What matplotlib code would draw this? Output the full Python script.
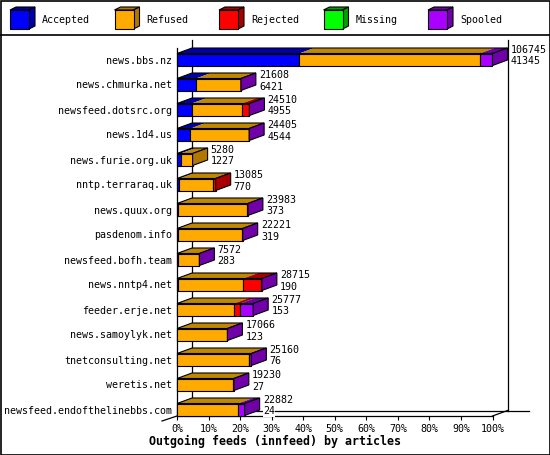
import numpy as np
import matplotlib
matplotlib.use('Agg')
import matplotlib.pyplot as plt
from matplotlib.patches import Polygon, Rectangle

# innfeed outgoing feeds, articles per peer
peers = ["news.bbs.nz", "news.chmurka.net", "newsfeed.dotsrc.org", "news.1d4.us",
         "news.furie.org.uk", "nntp.terraraq.uk", "news.quux.org", "pasdenom.info",
         "newsfeed.bofh.team", "news.nntp4.net", "feeder.erje.net", "news.samoylyk.net",
         "tnetconsulting.net", "weretis.net", "newsfeed.endofthelinebbs.com"]
offered = [106745, 21608, 24510, 24405, 5280, 13085, 23983, 22221, 7572, 28715,
           25777, 17066, 25160, 19230, 22882]
accepted = [41345, 6421, 4955, 4544, 1227, 770, 373, 319, 283, 190, 153, 123, 76, 27, 24]
refused = [61100, 15087, 17005, 19761, 4053, 11515, 23310, 21602, 7089, 22225,
           19224, 16793, 24184, 19003, 20658]
rejected = [0, 0, 2500, 0, 0, 800, 0, 0, 0, 6100, 2000, 0, 200, 0, 0]
missing = [0, 0, 0, 0, 0, 0, 0, 0, 0, 0, 0, 0, 0, 0, 0]
spooled = [4300, 100, 50, 100, 0, 0, 300, 300, 200, 200, 4400, 150, 700, 200, 2200]

legend_names = ["Accepted", "Refused", "Rejected", "Missing", "Spooled"]
front_col = ["#0000ff", "#ffaa00", "#ff0000", "#00ff00", "#aa00ff"]
dark_col = ["#0000a8", "#b07800", "#a80000", "#00a000", "#7000a8"]
top_col = ["#0000a8", "#c08800", "#a80000", "#00a000", "#7000a8"]

MONO = "DejaVu Sans Mono"
FS = 7.2
W, H = 550, 455

fig = plt.figure(figsize=(W / 100, H / 100), dpi=100)
fig.patch.set_facecolor("white")

# pixel-space layer for frame and legend
bg = fig.add_axes([0, 0, 1, 1])
bg.set_xlim(0, W)
bg.set_ylim(H, 0)
bg.axis("off")
bg.add_patch(Rectangle((0.5, 0.5), W - 1, H - 1, fc="none", ec="black", lw=1.2))
bg.plot([0, W], [35, 35], color="black", lw=1.2)

for k, name in enumerate(legend_names):
    x0 = 10 + k * 104.5
    y0, s, ox, oy = 10, 19, 6, 3
    bg.add_patch(Polygon([(x0, y0), (x0 + s, y0), (x0 + s + ox, y0 - oy), (x0 + ox, y0 - oy)],
                         fc=dark_col[k], ec="black", lw=0.8))
    bg.add_patch(Polygon([(x0 + s, y0), (x0 + s + ox, y0 - oy), (x0 + s + ox, y0 + s - oy), (x0 + s, y0 + s)],
                         fc=dark_col[k], ec="black", lw=0.8))
    bg.add_patch(Rectangle((x0, y0), s, s, fc=front_col[k], ec="black", lw=0.8))
    bg.text(x0 + 32, 20, name, family=MONO, fontsize=FS, va="center", ha="left")

# chart area: x in percent of the biggest feed, y in rows
ax = fig.add_axes([177 / W, 1 - 416 / H, 315.5 / W, (416 - 40) / H])
ax.patch.set_visible(False)
ax.set_xlim(0, 100)
ax.set_ylim(14.26, -0.78)
for sp in ax.spines.values():
    sp.set_visible(False)

DX = 15 / 3.155
DY = 5.5 / 25
HALF = 0.24
y_floor = 14.26
lk = dict(color="black", lw=0.9, clip_on=False, zorder=1)

# walls and floor
ax.plot([DX, DX], [-0.78, y_floor - DY], **lk)
ax.plot([100 + DX, 100 + DX], [-0.78, y_floor - DY], **lk)
ax.plot([DX, 111.6], [y_floor - DY, y_floor - DY], **lk)
ax.plot([0, 0], [-0.45, y_floor], **lk)
ax.plot([0, 100], [y_floor, y_floor], **lk)
ax.plot([100, 100 + DX], [y_floor, y_floor - DY], **lk)
ax.plot([0, -DX], [y_floor, y_floor + 0.2], **lk)

scale = max(offered)
for i in range(len(peers)):
    segs = [accepted[i], refused[i], rejected[i], missing[i], spooled[i]]
    left = 0.0
    last = 0
    for k, v in enumerate(segs):
        if v <= 0:
            continue
        w = v / scale * 100
        ax.add_patch(Polygon([(left, i - HALF), (left + w, i - HALF),
                              (left + w + DX, i - HALF - DY), (left + DX, i - HALF - DY)],
                             fc=top_col[k], ec="none", clip_on=False, zorder=3))
        ax.add_patch(Rectangle((left, i - HALF), w, 2 * HALF, fc=front_col[k], ec="black",
                               lw=0.8, clip_on=False, zorder=4))
        left += w
        last = k
    ax.add_patch(Polygon([(0, i - HALF), (left, i - HALF), (left + DX, i - HALF - DY), (DX, i - HALF - DY)],
                         fc="none", ec="black", lw=0.8, clip_on=False, zorder=5))
    ax.add_patch(Polygon([(left, i - HALF), (left + DX, i - HALF - DY),
                          (left + DX, i + HALF - DY), (left, i + HALF)],
                         fc=dark_col[last], ec="black", lw=0.8, clip_on=False, zorder=5))
    tx = left + DX + 1.0
    box = dict(fc="white", ec="none", pad=0)
    ax.text(tx, i - 0.37, str(offered[i]), family=MONO, fontsize=FS, va="center",
            ha="left", bbox=box, zorder=6)
    ax.text(tx, i + 0.08, str(accepted[i]), family=MONO, fontsize=FS, va="center",
            ha="left", bbox=box, zorder=6)

ax.set_yticks(range(len(peers)))
ax.set_yticklabels(peers, family=MONO, fontsize=FS)
ax.tick_params(axis="y", length=0, pad=3.6)
ax.set_xticks(range(0, 101, 10))
ax.set_xticklabels(["%d%%" % v for v in range(0, 101, 10)], family=MONO, fontsize=FS)
ax.tick_params(axis="x", length=3, width=0.8, pad=2.5, direction="out")

fig.text(275 / W, 1 - 441.5 / H, "Outgoing feeds (innfeed) by articles", family=MONO,
         fontsize=8.4, weight="bold", ha="center", va="center")

fig.savefig("out.png", dpi=100)
